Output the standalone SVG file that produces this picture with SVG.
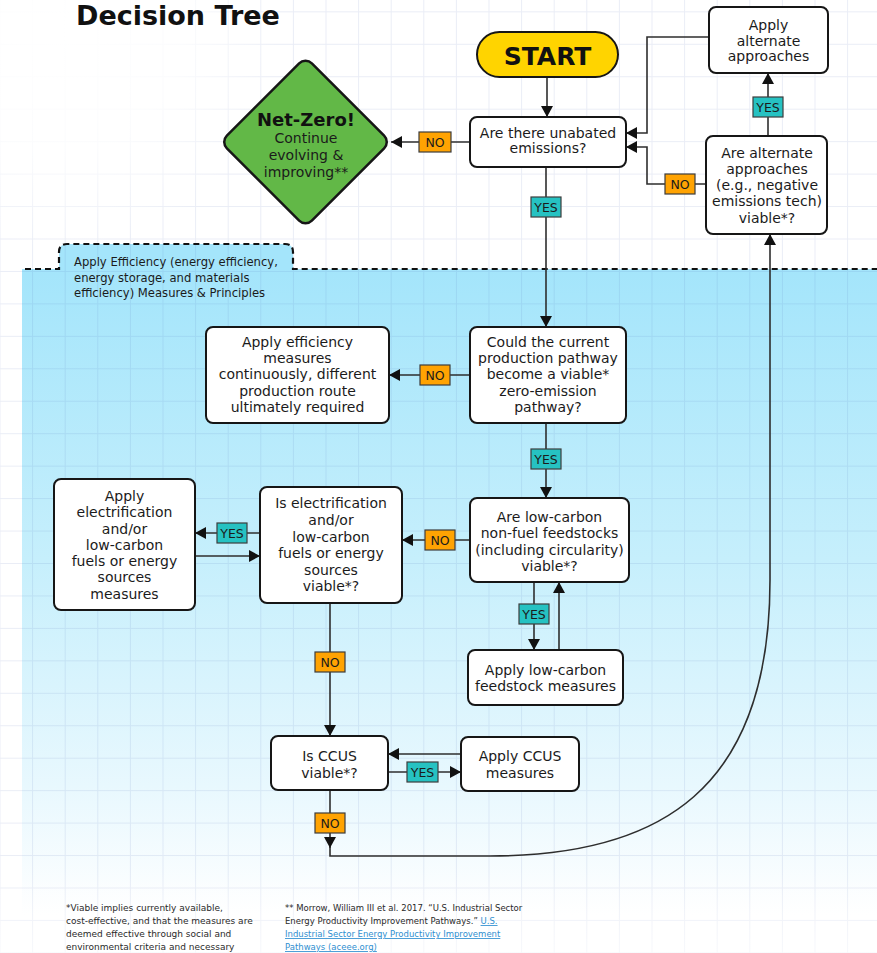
<svg xmlns="http://www.w3.org/2000/svg" width="877" height="953" viewBox="0 0 877 953">
<defs>
<style>
.box{fill:#fff;stroke:#161616;stroke-width:2}
.t{font-family:"DejaVu Sans",sans-serif;font-size:14px;fill:#1b1b1b;text-anchor:middle}
.conn path{fill:none;stroke:#2e2e2e;stroke-width:1.6}
.arr{marker-end:url(#ah)}
.lbl rect{stroke:#3d3d3d;stroke-width:1.2}
.no rect{fill:#ffa302}
.yes rect{fill:#26c2c2}
.lbl text{font-family:"DejaVu Sans",sans-serif;font-size:12.5px;fill:#1b1b1b;text-anchor:middle}
.fn{font-family:"DejaVu Sans",sans-serif;font-size:9px;fill:#2a2a2a}
.link{fill:#2f8fd0;text-decoration:underline}
.eff{font-family:"DejaVu Sans",sans-serif;font-size:11.6px;fill:#1b1b1b}
</style>
<marker id="ah" markerUnits="userSpaceOnUse" markerWidth="12" markerHeight="12" refX="11" refY="6" orient="auto"><path d="M0,0 L11,6 L0,12 Z" fill="#111"/></marker>
<pattern id="grid" patternUnits="userSpaceOnUse" x="-0.5" y="11.35" width="32.6" height="32.45"><path d="M0.5,0 V32.45 M0,0.5 H32.6" stroke="rgba(60,90,170,0.11)" stroke-width="1" fill="none"/></pattern>
<linearGradient id="blue" gradientUnits="userSpaceOnUse" x1="0" y1="269" x2="0" y2="915"><stop offset="0" stop-color="#a4e5fb"/><stop offset="0.45" stop-color="#c6effc"/><stop offset="0.8" stop-color="#e8f8fe"/><stop offset="1" stop-color="#ffffff"/></linearGradient>
<radialGradient id="fadeTL" gradientUnits="userSpaceOnUse" cx="60" cy="30" r="220"><stop offset="0" stop-color="#fff" stop-opacity="1"/><stop offset="0.55" stop-color="#fff" stop-opacity="0.8"/><stop offset="1" stop-color="#fff" stop-opacity="0"/></radialGradient>
<linearGradient id="fadeB" gradientUnits="userSpaceOnUse" x1="0" y1="870" x2="0" y2="953"><stop offset="0" stop-color="#fff" stop-opacity="0"/><stop offset="1" stop-color="#fff" stop-opacity="0.6"/></linearGradient>
</defs>

<g id="background">
<rect x="0" y="0" width="877" height="953" fill="#ffffff"/>
<rect x="22" y="269" width="855" height="684" fill="url(#blue)"/>
<path d="M59,269 V252 Q59,244 67,244 H285 Q293,244 293,252 V269 Z" fill="#a4e5fb"/>
<rect x="0" y="0" width="877" height="953" fill="url(#grid)"/>
<rect x="0" y="0" width="400" height="260" fill="url(#fadeTL)"/>
<rect x="0" y="870" width="877" height="83" fill="url(#fadeB)"/>
</g>

<g id="efficiency-zone">
<path d="M25,269 H59 V252 Q59,244 67,244 H285 Q293,244 293,252 V269 H877" fill="none" stroke="#111" stroke-width="2.2" stroke-dasharray="6 4"/>
<text class="eff" x="74" y="266">Apply Efficiency (energy efficiency,</text>
<text class="eff" x="74" y="281.5">energy storage, and materials</text>
<text class="eff" x="74" y="297">efficiency) Measures &amp; Principles</text>
</g>

<g id="title"><text x="76" y="25" font-family="DejaVu Sans, sans-serif" font-weight="bold" font-size="27" fill="#111">Decision Tree</text></g>

<g id="connectors" class="conn">
<path class="arr" d="M547,77 V117"/>
<path class="arr" d="M470,142 H391"/>
<path class="arr" d="M709,37 H647 V133 H626"/>
<path class="arr" d="M706,184 H647 V147 H626"/>
<path class="arr" d="M768,136 V73"/>
<path class="arr" d="M546,167 V327"/>
<path class="arr" d="M470,375 H389"/>
<path class="arr" d="M546,423 V498"/>
<path class="arr" d="M470,540 H402"/>
<path class="arr" d="M260,533 H195"/>
<path class="arr" d="M195,556 H260"/>
<path class="arr" d="M534,582 V650"/>
<path class="arr" d="M559,650 V582"/>
<path class="arr" d="M330,603 V736"/>
<path class="arr" d="M461,754 H388"/>
<path class="arr" d="M388,772 H461"/>
<path class="arr" d="M330,790 V848"/>
<path class="arr" d="M330,847 V856 H490 C660,856 770,790 770,580 V234"/>

<g class="lbl no"><rect x="419" y="132" width="32" height="20"/><text x="435" y="146.5">NO</text></g>
<g class="lbl no"><rect x="665" y="174" width="30" height="20"/><text x="680" y="188.5">NO</text></g>
<g class="lbl yes"><rect x="753" y="97" width="30" height="20"/><text x="768" y="111.5">YES</text></g>
<g class="lbl yes"><rect x="531" y="197" width="30" height="20"/><text x="546" y="211.5">YES</text></g>
<g class="lbl no"><rect x="420" y="365" width="30" height="20"/><text x="435" y="379.5">NO</text></g>
<g class="lbl yes"><rect x="531" y="449" width="30" height="20"/><text x="546" y="463.5">YES</text></g>
<g class="lbl no"><rect x="425" y="530" width="30" height="20"/><text x="440" y="544.5">NO</text></g>
<g class="lbl yes"><rect x="217" y="523" width="30" height="20"/><text x="232" y="537.5">YES</text></g>
<g class="lbl yes"><rect x="519" y="604" width="30" height="20"/><text x="534" y="618.5">YES</text></g>
<g class="lbl no"><rect x="315" y="652" width="30" height="20"/><text x="330" y="666.5">NO</text></g>
<g class="lbl yes"><rect x="407" y="762" width="31" height="20"/><text x="422.5" y="776.5">YES</text></g>
<g class="lbl no"><rect x="315" y="813" width="30" height="20"/><text x="330" y="827.5">NO</text></g>
</g>

<g id="n-start">
<rect x="477" y="32" width="141" height="45" rx="22.5" fill="#ffd400" stroke="#161616" stroke-width="2"/>
<text class="t" x="547.5" y="65" style="font-weight:bold;font-size:25px;fill:#111">START</text>
</g>

<g id="n-unabated">
<rect class="box" x="470" y="117" width="156" height="50" rx="7"/>
<text class="t" x="548" y="137.7">Are there unabated</text>
<text class="t" x="548" y="153.3">emissions?</text>
</g>

<g id="n-netzero">
<rect x="-60.1" y="-60.1" width="120.2" height="120.2" rx="9" transform="translate(305.5,142) rotate(45)" fill="#62b847" stroke="#161616" stroke-width="2.5"/>
<text class="t" x="306" y="125.5" style="font-weight:bold;font-size:18px;fill:#111">Net-Zero!</text>
<text class="t" x="306" y="143">Continue</text>
<text class="t" x="306" y="160">evolving &amp;</text>
<text class="t" x="306" y="176.7">improving**</text>
</g>

<g id="n-apply-alternate">
<rect class="box" x="709" y="7" width="119" height="66" rx="7"/>
<text class="t" x="768.5" y="30">Apply</text>
<text class="t" x="768.5" y="45.5">alternate</text>
<text class="t" x="768.5" y="61">approaches</text>
</g>

<g id="n-alternate-viable">
<rect class="box" x="706" y="136" width="121" height="98" rx="7"/>
<text class="t" x="767" y="157.7">Are alternate</text>
<text class="t" x="767" y="173.7">approaches</text>
<text class="t" x="767" y="189.7">(e.g., negative</text>
<text class="t" x="767" y="206">emissions tech)</text>
<text class="t" x="767" y="222.5">viable*?</text>
</g>

<g id="n-pathway">
<rect class="box" x="470" y="327" width="156" height="96" rx="7"/>
<text class="t" x="548" y="347.3">Could the current</text>
<text class="t" x="548" y="363.3">production pathway</text>
<text class="t" x="548" y="379.3">become a viable*</text>
<text class="t" x="548" y="395.5">zero-emission</text>
<text class="t" x="548" y="411.5">pathway?</text>
</g>

<g id="n-apply-efficiency">
<rect class="box" x="206" y="327" width="183" height="96" rx="7"/>
<text class="t" x="297.5" y="347.3">Apply efficiency</text>
<text class="t" x="297.5" y="363.3">measures</text>
<text class="t" x="297.5" y="379.3">continuously, different</text>
<text class="t" x="297.5" y="395.8">production route</text>
<text class="t" x="297.5" y="412">ultimately required</text>
</g>

<g id="n-feedstocks">
<rect class="box" x="470" y="498" width="159" height="84" rx="7"/>
<text class="t" x="549.5" y="522">Are low-carbon</text>
<text class="t" x="549.5" y="538.3">non-fuel feedstocks</text>
<text class="t" x="549.5" y="554.6">(including circularity)</text>
<text class="t" x="549.5" y="571">viable*?</text>
</g>

<g id="n-electrification">
<rect class="box" x="260" y="487" width="142" height="116" rx="7"/>
<text class="t" x="331" y="508.3">Is electrification</text>
<text class="t" x="331" y="525">and/or</text>
<text class="t" x="331" y="541.6">low-carbon</text>
<text class="t" x="331" y="558.2">fuels or energy</text>
<text class="t" x="331" y="574.7">sources</text>
<text class="t" x="331" y="591">viable*?</text>
</g>

<g id="n-apply-electrification">
<rect class="box" x="54" y="479" width="141" height="131" rx="7"/>
<text class="t" x="124.5" y="501">Apply</text>
<text class="t" x="124.5" y="517.3">electrification</text>
<text class="t" x="124.5" y="533.5">and/or</text>
<text class="t" x="124.5" y="550">low-carbon</text>
<text class="t" x="124.5" y="566.2">fuels or energy</text>
<text class="t" x="124.5" y="582.4">sources</text>
<text class="t" x="124.5" y="598.5">measures</text>
</g>

<g id="n-apply-feedstock">
<rect class="box" x="468" y="650" width="155" height="55" rx="7"/>
<text class="t" x="545.5" y="675">Apply low-carbon</text>
<text class="t" x="545.5" y="691">feedstock measures</text>
</g>

<g id="n-ccus">
<rect class="box" x="271" y="736" width="117" height="54" rx="7"/>
<text class="t" x="329.5" y="761">Is CCUS</text>
<text class="t" x="329.5" y="778.3">viable*?</text>
</g>

<g id="n-apply-ccus">
<rect class="box" x="461" y="737" width="118" height="54" rx="7"/>
<text class="t" x="520" y="761">Apply CCUS</text>
<text class="t" x="520" y="778">measures</text>
</g>

<g id="footnotes">
<text class="fn" x="66" y="911">*Viable implies currently available,</text>
<text class="fn" x="66" y="924">cost-effective, and that the measures are</text>
<text class="fn" x="66" y="937">deemed effective through social and</text>
<text class="fn" x="66" y="950">environmental criteria and necessary</text>
<text class="fn" x="285" y="911" style="font-size:8.5px">** Morrow, William III et al. 2017. “U.S. Industrial Sector</text>
<text class="fn" x="285" y="924" style="font-size:8.5px">Energy Productivity Improvement Pathways.” <tspan class="link">U.S.</tspan></text>
<text class="fn link" x="285" y="937" style="font-size:8.5px">Industrial Sector Energy Productivity Improvement</text>
<text class="fn link" x="285" y="950" style="font-size:8.5px">Pathways (aceee.org)</text>
</g>
</svg>
